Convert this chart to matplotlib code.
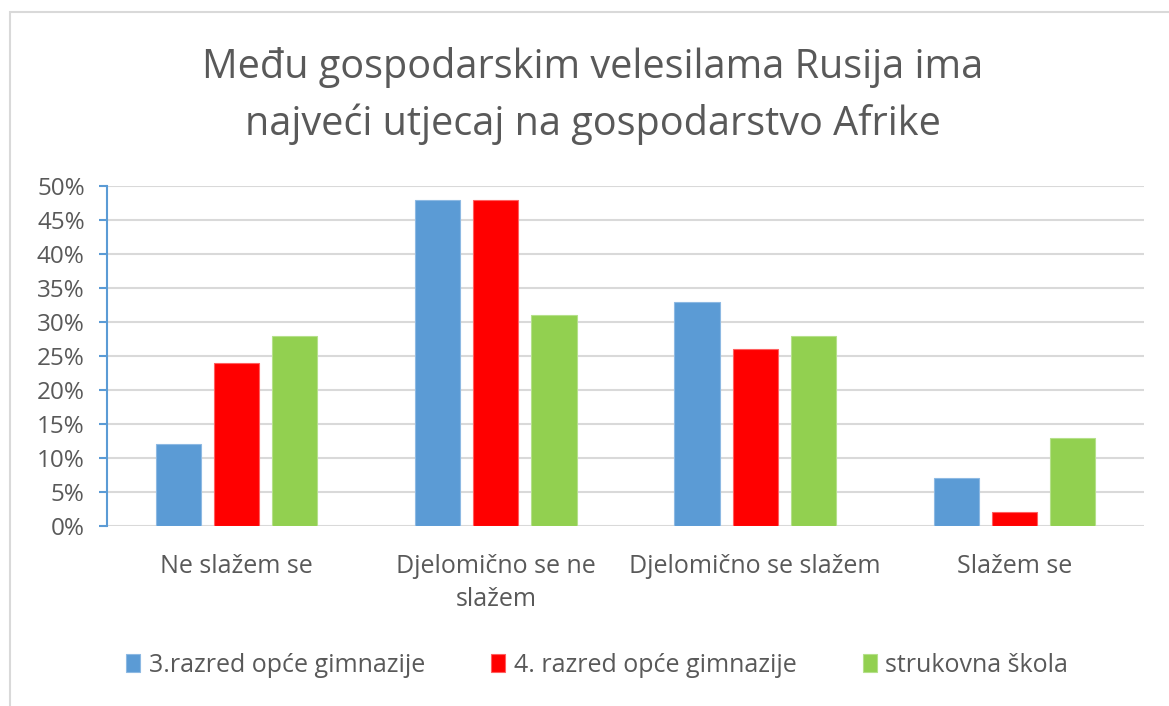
import numpy as np
import matplotlib.pyplot as plt
from matplotlib.patches import Rectangle
from matplotlib.ticker import PercentFormatter

plt.rcParams['font.family'] = ['Open Sans', 'DejaVu Sans']

categories = ["Ne slažem se", "Djelomično se ne\nslažem", "Djelomično se slažem", "Slažem se"]
series_names = ["3.razred opće gimnazije", "4. razred opće gimnazije", "strukovna škola"]
treci_razred = [0.12, 0.48, 0.33, 0.07]
cetvrti_razred = [0.24, 0.48, 0.26, 0.02]
strukovna = [0.28, 0.31, 0.28, 0.13]
colors = ["#5B9BD5", "#FF0000", "#92D050"]
edges = ["#8DB9E3", "#FF6060", "#B5E08A"]

title = "Među gospodarskim velesilama Rusija ima\nnajveći utjecaj na gospodarstvo Afrike"
grey = "#595959"

fig = plt.figure(figsize=(11.69, 7.06), dpi=100)
fig.patches.append(Rectangle((10 / 1169, -0.1), 1.2, 1 - 12 / 706 + 0.1, transform=fig.transFigure,
                             fill=False, edgecolor="#D9D9D9", linewidth=1.5))

ax = fig.add_axes([107 / 1169, 1 - 526 / 706, (1144 - 107) / 1169, (526 - 186) / 706])

x = np.arange(len(categories))
width = 0.174
step = 0.224
for i, vals in enumerate([treci_razred, cetvrti_razred, strukovna]):
    ax.bar(x + (i - 1) * step, vals, width, color=colors[i], edgecolor=edges[i],
           linewidth=0.8, label=series_names[i], zorder=3)

ax.set_xlim(-0.5, len(categories) - 0.5)
ax.set_ylim(0, 0.5)
ax.set_yticks(np.arange(0, 0.51, 0.05))
ax.yaxis.set_major_formatter(PercentFormatter(1.0, decimals=0))
ax.grid(axis="y", color="#D9D9D9", linewidth=1.5, zorder=0)
ax.set_axisbelow(True)

for s in ["top", "right", "bottom"]:
    ax.spines[s].set_visible(False)
ax.spines["left"].set_color("#5B9BD5")
ax.spines["left"].set_linewidth(1.5)

ax.set_xticks(x)
ax.set_xticklabels(categories, fontsize=18, color=grey, linespacing=1.45)
ax.tick_params(axis="x", length=0, pad=20)
ax.tick_params(axis="y", length=6, width=1.5, color="#5B9BD5", labelsize=17.5,
               labelcolor=grey, pad=10)

fig.text(0.507, 1 - 96 / 706, title, ha="center", va="center", fontsize=28.5,
         color=grey, linespacing=1.5)

fig.legend(loc="center", bbox_to_anchor=(0.511, 1 - 665 / 706), ncol=3, frameon=False,
           fontsize=18, labelcolor=grey, handlelength=0.55, handleheight=0.75,
           handletextpad=0.35, columnspacing=2.65)

fig.savefig("out.png", dpi=100)
